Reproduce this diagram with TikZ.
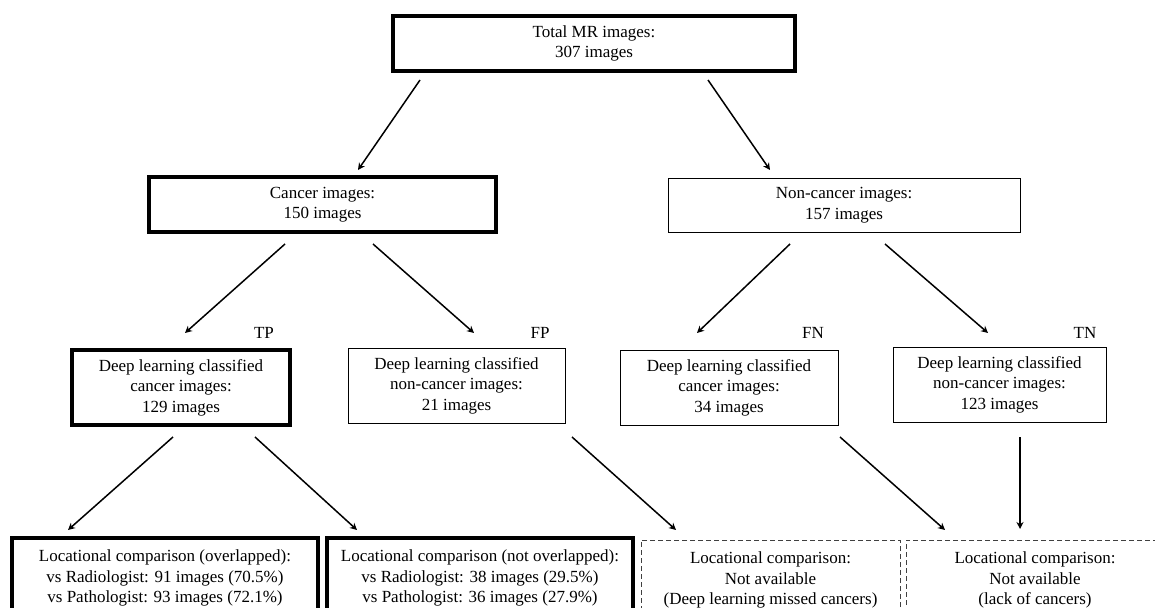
\documentclass[tikz,border=0pt]{standalone}
\usepackage{fontspec}
\setmainfont{Liberation Serif}
\usetikzlibrary{arrows.meta}
\begin{document}
\begin{tikzpicture}[x=1pt,y=-1pt,
  box/.style={draw, line width=1pt, align=center, inner sep=0pt, font=\fontsize{17}{20.5}\selectfont, minimum height=75pt},
  thickbox/.style={box, line width=4pt},
  dbox/.style={box, dash pattern=on 5pt off 3pt, draw=black!75, line width=0.8pt},
  arr/.style={-{Stealth[length=7pt,width=7pt]}, line width=1.5pt},
  lab/.style={font=\fontsize{17}{18}\selectfont, inner sep=0pt}
]
\path[use as bounding box] (0,0) rectangle (1155,607);
\clip (0,0) rectangle (1155,607);
\fill[white] (0,0) rectangle (1155,607);

\node[thickbox, minimum width=402pt, minimum height=55pt] (top) at (594,43.5) {Total MR images:\\307 images};
\node[thickbox, minimum width=347pt, minimum height=55pt] (can) at (322.5,204.5) {Cancer images:\\150 images};
\node[box, minimum width=352pt, minimum height=54pt] (non) at (844,205) {Non-cancer images:\\157 images};

\node[thickbox, minimum width=218pt] (tp) at (181,387.5) {Deep learning classified\\cancer images:\\129 images};
\node[box, minimum width=217pt] (fp) at (456.5,385.5) {Deep learning classified\\non-cancer images:\\21 images};
\node[box, minimum width=218pt] (fn) at (729,387.5) {Deep learning classified\\cancer images:\\34 images};
\node[box, minimum width=213pt] (tn) at (999.5,384.5) {Deep learning classified\\non-cancer images:\\123 images};

\node[lab] (tpl) at (264,333) {TP};
\node[lab] (fpl) at (540,333) {FP};
\node[lab] (fnl) at (813,333) {FN};
\node[lab] (tnl) at (1085,333) {TN};

\node[thickbox, minimum width=306pt, minimum height=80pt] (b1) at (165,578) {Locational comparison (overlapped):\\vs Radiologist: 91 images (70.5\%)\\vs Pathologist: 93 images (72.1\%)};
\node[thickbox, minimum width=306pt, minimum height=80pt] (b2) at (480,578) {Locational comparison (not overlapped):\\vs Radiologist: 38 images (29.5\%)\\vs Pathologist: 36 images (27.9\%)};
\node[dbox, minimum width=259pt, minimum height=80pt] (b3) at (770.5,580) {Locational comparison:\\Not available\\(Deep learning missed cancers)};
\node[dbox, minimum width=258pt, minimum height=80pt] (b4) at (1035,580) {Locational comparison:\\Not available\\(lack of cancers)};

\coordinate (a1s) at (420,80);  \coordinate (a1e) at (358,170);
\coordinate (a2s) at (708,80);  \coordinate (a2e) at (770,170);
\coordinate (a3s) at (285,244); \coordinate (a3e) at (185,333);
\coordinate (a4s) at (373,244); \coordinate (a4e) at (474,333);
\coordinate (a5s) at (790,244); \coordinate (a5e) at (697,333);
\coordinate (a6s) at (885,244); \coordinate (a6e) at (988,333);
\coordinate (a7s) at (173,437); \coordinate (a7e) at (68,530);
\coordinate (a8s) at (255,437); \coordinate (a8e) at (357,530);
\coordinate (a9s) at (572,437); \coordinate (a9e) at (676,530);
\coordinate (a10s) at (840,437); \coordinate (a10e) at (945,530);
\coordinate (a11s) at (1020,437); \coordinate (a11e) at (1020,529);

\foreach \i in {1,...,11} \draw[arr] (a\i s) -- (a\i e);
\end{tikzpicture}
\end{document}
